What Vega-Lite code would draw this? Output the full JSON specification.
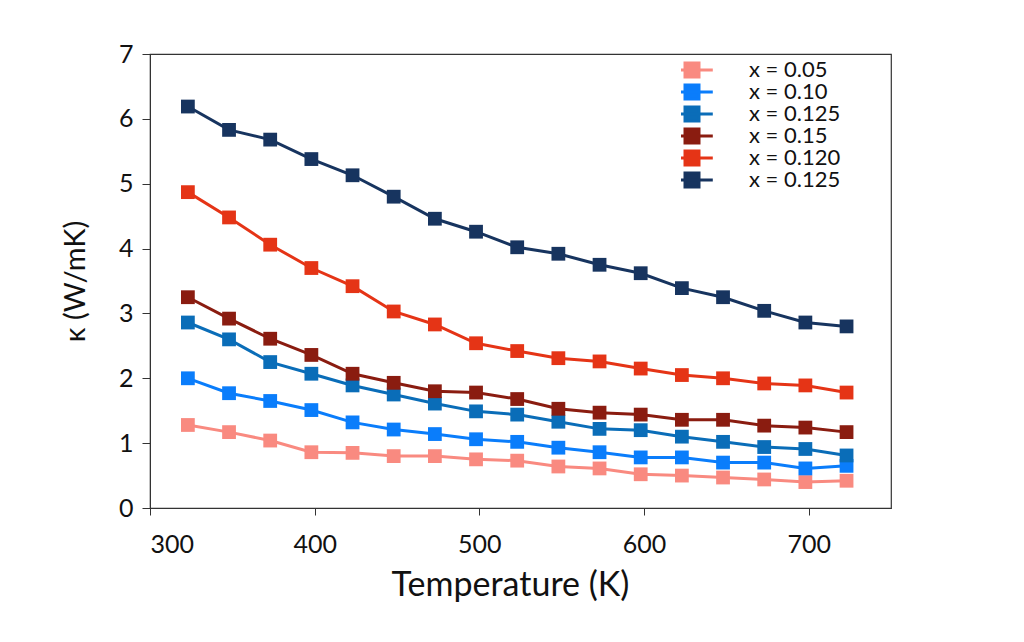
{
  "$schema": "https://vega.github.io/schema/vega-lite/v6.json",
  "description": "Thermal conductivity vs temperature for six compositions.",
  "width": 741,
  "height": 454,
  "autosize": {"type": "none"},
  "padding": {"left": 150, "top": 54, "right": 133, "bottom": 134},
  "background": "white",
  "config": {
    "font": "Lato",
    "view": {"stroke": "#333", "strokeWidth": 1.2},
    "axis": {"grid": false, "domainColor": "#333", "tickColor": "#333", "labelColor": "#111", "titleColor": "#111", "labelFont": "Lato", "titleFont": "Lato", "titleFontWeight": "normal"}
  },
  "data": {
    "values": [
      {"s": "s1", "T": 323, "k": 1.28}, {"s": "s1", "T": 348, "k": 1.17}, {"s": "s1", "T": 373, "k": 1.04}, {"s": "s1", "T": 398, "k": 0.86}, {"s": "s1", "T": 423, "k": 0.85}, {"s": "s1", "T": 448, "k": 0.80}, {"s": "s1", "T": 473, "k": 0.80}, {"s": "s1", "T": 498, "k": 0.75}, {"s": "s1", "T": 523, "k": 0.73}, {"s": "s1", "T": 548, "k": 0.64}, {"s": "s1", "T": 573, "k": 0.61}, {"s": "s1", "T": 598, "k": 0.52}, {"s": "s1", "T": 623, "k": 0.50}, {"s": "s1", "T": 648, "k": 0.47}, {"s": "s1", "T": 673, "k": 0.44}, {"s": "s1", "T": 698, "k": 0.40}, {"s": "s1", "T": 723, "k": 0.42},
      {"s": "s2", "T": 323, "k": 2.00}, {"s": "s2", "T": 348, "k": 1.77}, {"s": "s2", "T": 373, "k": 1.65}, {"s": "s2", "T": 398, "k": 1.51}, {"s": "s2", "T": 423, "k": 1.32}, {"s": "s2", "T": 448, "k": 1.21}, {"s": "s2", "T": 473, "k": 1.14}, {"s": "s2", "T": 498, "k": 1.06}, {"s": "s2", "T": 523, "k": 1.02}, {"s": "s2", "T": 548, "k": 0.93}, {"s": "s2", "T": 573, "k": 0.86}, {"s": "s2", "T": 598, "k": 0.78}, {"s": "s2", "T": 623, "k": 0.78}, {"s": "s2", "T": 648, "k": 0.70}, {"s": "s2", "T": 673, "k": 0.70}, {"s": "s2", "T": 698, "k": 0.61}, {"s": "s2", "T": 723, "k": 0.65},
      {"s": "s3", "T": 323, "k": 2.86}, {"s": "s3", "T": 348, "k": 2.60}, {"s": "s3", "T": 373, "k": 2.25}, {"s": "s3", "T": 398, "k": 2.07}, {"s": "s3", "T": 423, "k": 1.89}, {"s": "s3", "T": 448, "k": 1.75}, {"s": "s3", "T": 473, "k": 1.61}, {"s": "s3", "T": 498, "k": 1.49}, {"s": "s3", "T": 523, "k": 1.44}, {"s": "s3", "T": 548, "k": 1.33}, {"s": "s3", "T": 573, "k": 1.22}, {"s": "s3", "T": 598, "k": 1.20}, {"s": "s3", "T": 623, "k": 1.10}, {"s": "s3", "T": 648, "k": 1.02}, {"s": "s3", "T": 673, "k": 0.94}, {"s": "s3", "T": 698, "k": 0.91}, {"s": "s3", "T": 723, "k": 0.81},
      {"s": "s4", "T": 323, "k": 3.25}, {"s": "s4", "T": 348, "k": 2.92}, {"s": "s4", "T": 373, "k": 2.61}, {"s": "s4", "T": 398, "k": 2.36}, {"s": "s4", "T": 423, "k": 2.07}, {"s": "s4", "T": 448, "k": 1.93}, {"s": "s4", "T": 473, "k": 1.80}, {"s": "s4", "T": 498, "k": 1.78}, {"s": "s4", "T": 523, "k": 1.68}, {"s": "s4", "T": 548, "k": 1.53}, {"s": "s4", "T": 573, "k": 1.47}, {"s": "s4", "T": 598, "k": 1.44}, {"s": "s4", "T": 623, "k": 1.36}, {"s": "s4", "T": 648, "k": 1.36}, {"s": "s4", "T": 673, "k": 1.27}, {"s": "s4", "T": 698, "k": 1.24}, {"s": "s4", "T": 723, "k": 1.17},
      {"s": "s5", "T": 323, "k": 4.87}, {"s": "s5", "T": 348, "k": 4.48}, {"s": "s5", "T": 373, "k": 4.06}, {"s": "s5", "T": 398, "k": 3.70}, {"s": "s5", "T": 423, "k": 3.42}, {"s": "s5", "T": 448, "k": 3.03}, {"s": "s5", "T": 473, "k": 2.83}, {"s": "s5", "T": 498, "k": 2.54}, {"s": "s5", "T": 523, "k": 2.42}, {"s": "s5", "T": 548, "k": 2.31}, {"s": "s5", "T": 573, "k": 2.26}, {"s": "s5", "T": 598, "k": 2.15}, {"s": "s5", "T": 623, "k": 2.05}, {"s": "s5", "T": 648, "k": 2.00}, {"s": "s5", "T": 673, "k": 1.92}, {"s": "s5", "T": 698, "k": 1.89}, {"s": "s5", "T": 723, "k": 1.78},
      {"s": "s6", "T": 323, "k": 6.19}, {"s": "s6", "T": 348, "k": 5.83}, {"s": "s6", "T": 373, "k": 5.68}, {"s": "s6", "T": 398, "k": 5.38}, {"s": "s6", "T": 423, "k": 5.13}, {"s": "s6", "T": 448, "k": 4.80}, {"s": "s6", "T": 473, "k": 4.46}, {"s": "s6", "T": 498, "k": 4.26}, {"s": "s6", "T": 523, "k": 4.02}, {"s": "s6", "T": 548, "k": 3.92}, {"s": "s6", "T": 573, "k": 3.75}, {"s": "s6", "T": 598, "k": 3.62}, {"s": "s6", "T": 623, "k": 3.39}, {"s": "s6", "T": 648, "k": 3.25}, {"s": "s6", "T": 673, "k": 3.04}, {"s": "s6", "T": 698, "k": 2.86}, {"s": "s6", "T": 723, "k": 2.80}
    ]
  },
  "mark": {
    "type": "line",
    "strokeWidth": 3,
    "point": {"shape": "square", "filled": true, "size": 190, "opacity": 1}
  },
  "encoding": {
    "x": {
      "field": "T",
      "type": "quantitative",
      "title": "Temperature (K)",
      "scale": {"domain": [300, 750], "nice": false, "zero": false},
      "axis": {"values": [300, 400, 500, 600, 700], "tickSize": 7, "labelFontSize": 25, "labelPadding": 17, "titleFontSize": 34, "titlePadding": 11, "titleX": 360}
    },
    "y": {
      "field": "k",
      "type": "quantitative",
      "title": "κ (W/mK)",
      "scale": {"domain": [0, 7], "nice": false},
      "axis": {"values": [0, 1, 2, 3, 4, 5, 6, 7], "tickSize": 8, "labelFontSize": 25, "labelPadding": 9, "titleFontSize": 29, "titlePadding": 28}
    },
    "color": {
      "field": "s",
      "type": "nominal",
      "scale": {
        "domain": ["s1", "s2", "s3", "s4", "s5", "s6"],
        "range": ["#F98A80", "#0A7DFB", "#0A6DB8", "#8A1C10", "#E53416", "#17345F"]
      },
      "legend": {
        "title": null,
        "orient": "none",
        "legendX": 531,
        "legendY": 6,
        "padding": 0,
        "symbolType": "M-2.6,0H2.6M-0.875,-0.875H0.875V0.875H-0.875Z",
        "symbolSize": 256,
        "symbolStrokeWidth": 3,
        "clipHeight": 20,
        "labelOffset": 46,
        "labelFontSize": 22,
        "labelColor": "#111",
        "rowPadding": 0,
        "labelExpr": "{'s1': 'x = 0.05', 's2': 'x = 0.10', 's3': 'x = 0.125', 's4': 'x = 0.15', 's5': 'x = 0.120', 's6': 'x = 0.125'}[datum.value]",
        "encode": {
          "symbols": {
            "update": {
              "fill": {"scale": "color", "field": "value"},
              "stroke": {"scale": "color", "field": "value"},
              "opacity": {"value": 1}
            }
          }
        }
      }
    }
  }
}
